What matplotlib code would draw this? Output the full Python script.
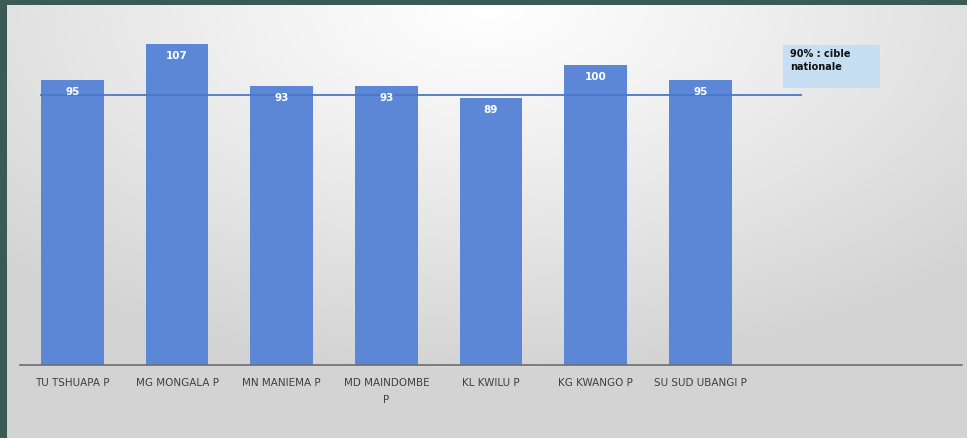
import numpy as np
import matplotlib
matplotlib.use("Agg")
import matplotlib.pyplot as plt
from matplotlib.patches import Rectangle

provinces = ["TU TSHUAPA P", "MG MONGALA P", "MN MANIEMA P", "MD MAINDOMBE\nP",
             "KL KWILU P", "KG KWANGO P", "SU SUD UBANGI P", "", ""]
coverage = [95, 107, 93, 93, 89, 100, 95]
target = 90
target_label = "90% : cible\nnationale"

bar_color = "#5b87d6"
W, H = 967, 438

fig = plt.figure(figsize=(W / 100, H / 100), dpi=100)
fig.patch.set_facecolor("#3b5a55")

# slide background: light radial gradient, white near the top centre
bg = fig.add_axes([7 / W, 0, 1 - 7 / W, 1 - 5 / H])
yy, xx = np.mgrid[0:1:200j, 0:1:400j]
d = np.sqrt(((xx - 0.5) / 0.7) ** 2 + ((yy - 0.0) / 0.85) ** 2)
shade = 1.0 - 0.17 * np.clip(d, 0, 1) ** 1.1
bg.imshow(np.dstack([shade] * 3), aspect="auto", extent=[0, 1, 1, 0])
bg.set_axis_off()

left, right, base = 20, 962, 365
ymax = 115
ax = fig.add_axes([left / W, (H - base) / H, (right - left) / W, ymax * 3.0 / H])
ax.set_facecolor("none")

x = np.arange(len(provinces))
bars = ax.bar(x[:len(coverage)], coverage, width=0.6, color=bar_color, zorder=2)
ax.hlines(target, -0.31, 6.97, color="#4a78c8", lw=1.3, zorder=3)

for b, v in zip(bars, coverage):
    ax.text(b.get_x() + b.get_width() / 2, v - 4, str(v), ha="center", va="center",
            color="white", fontsize=7.5, fontweight="bold", zorder=4)

# label box for the national target line
ax.add_patch(Rectangle((6.79, 92.3), 0.93, 14.4, fc="#c7dff3", ec="none",
                       zorder=2, clip_on=False))
ax.text(6.86, 105.3, target_label, ha="left", va="top", fontsize=7,
        fontweight="bold", color="#111111", linespacing=1.35, zorder=3)

ax.set_xlim(-0.5, len(provinces) - 0.5)
ax.set_ylim(0, ymax)
ax.set_xticks(x)
ax.set_xticklabels(provinces, fontsize=7.5, color="#404040", linespacing=1.9,
                   family=["Liberation Sans Narrow", "DejaVu Sans"])
ax.tick_params(axis="x", length=0, pad=9)
ax.set_yticks([])
for s in ["top", "right", "left"]:
    ax.spines[s].set_visible(False)
ax.spines["bottom"].set_color("#6e6e6e")
ax.spines["bottom"].set_linewidth(1.2)

fig.savefig("out.png", dpi=100)
